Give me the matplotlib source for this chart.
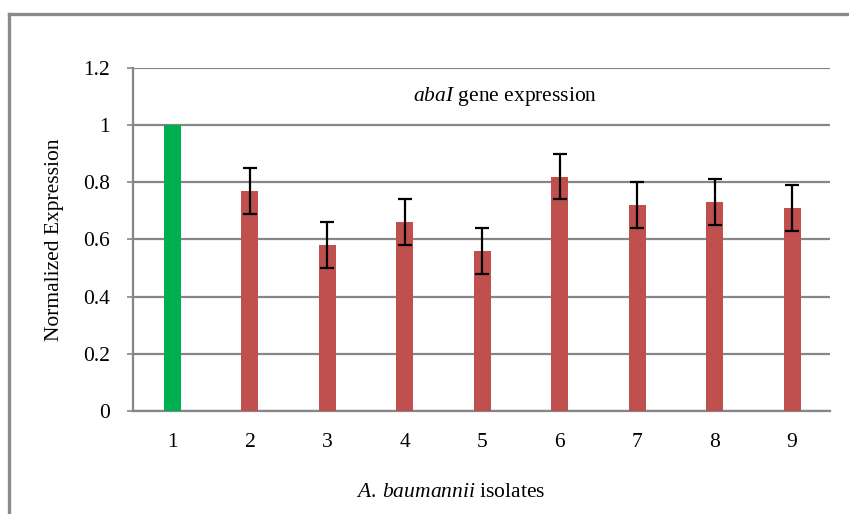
import matplotlib
matplotlib.use('Agg')
import matplotlib.pyplot as plt
from matplotlib.lines import Line2D

plt.rcParams['font.family'] = ['Liberation Serif', 'DejaVu Serif']
plt.rcParams['mathtext.fontset'] = 'custom'
plt.rcParams['mathtext.rm'] = 'Liberation Serif'
plt.rcParams['mathtext.it'] = 'Liberation Serif:italic'

# datos
isolates = ['1', '2', '3', '4', '5', '6', '7', '8', '9']
expression = [1.0, 0.77, 0.58, 0.66, 0.56, 0.82, 0.72, 0.73, 0.71]
errors = [0, 0.08, 0.08, 0.08, 0.08, 0.08, 0.08, 0.08, 0.08]
colores = ['#00B050'] + ['#C0504D'] * 8

fig = plt.figure(figsize=(8.49, 5.14), dpi=100)
ax = fig.add_axes([0.1567, 0.2004, 0.8209, 0.6673])

x = range(len(isolates))
ax.bar(x, expression, width=0.22, color=colores, zorder=3)

# barras de error (sin la primera)
ax.errorbar(list(x)[1:], expression[1:], yerr=errors[1:], fmt='none',
            ecolor='black', elinewidth=1.6, capsize=5, capthick=1.6, zorder=4)

ax.set_xlim(-0.51, 8.49)
ax.set_ylim(0, 1.2)
ax.set_yticks([0, 0.2, 0.4, 0.6, 0.8, 1, 1.2])
ax.set_yticklabels(['0', '0.2', '0.4', '0.6', '0.8', '1', '1.2'])
ax.set_xticks(list(x))
ax.set_xticklabels(isolates)

ax.yaxis.grid(True, color='#868686', linewidth=1.6, zorder=0)
ax.set_axisbelow(True)
for s in ['top', 'right']:
    ax.spines[s].set_visible(False)
for s in ['left', 'bottom']:
    ax.spines[s].set_color('#868686')
    ax.spines[s].set_linewidth(1.6)

ax.tick_params(axis='y', length=4.5, color='#868686', width=1.2, labelsize=15.5, pad=12)
ax.tick_params(axis='x', length=0, labelsize=15.5, pad=16)

ax.set_ylabel('Normalized Expression', fontsize=15.5, labelpad=14)
ax.set_xlabel(r'$\mathit{A.\:baumannii}$ isolates', fontsize=15.5, labelpad=22)
ax.xaxis.label.set_x(0.456)

ax.text(0.534, 0.918, r'$\mathit{abaI}$ gene expression', transform=ax.transAxes,
        ha='center', va='center', fontsize=15.5)

# borde gris de la figura
fig.add_artist(Line2D([9 / 849, 1], [1 - 14 / 514, 1 - 14 / 514], color='#8a8a8a', linewidth=2.4))
fig.add_artist(Line2D([9 / 849, 9 / 849], [0, 1 - 14 / 514], color='#8a8a8a', linewidth=2.4))

fig.savefig('out.png', dpi=100)
